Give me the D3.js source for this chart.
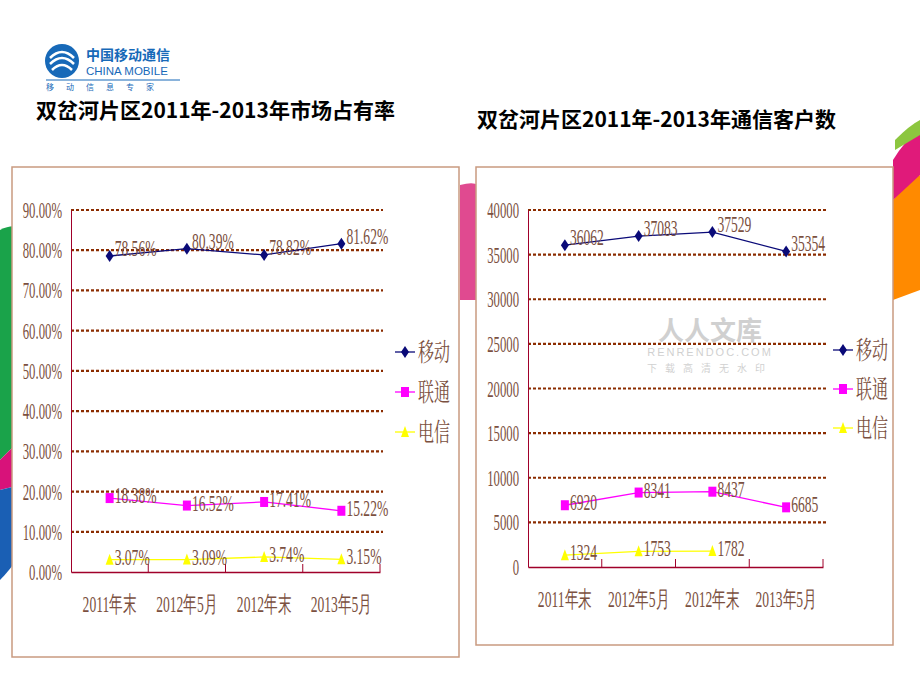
<!DOCTYPE html>
<html><head><meta charset="utf-8">
<script src="https://cdn.jsdelivr.net/npm/d3@7"></script>
<style>body{margin:0;background:#fff}svg{display:block}</style>
</head><body>
<svg id="c" width="920" height="690"></svg>
<script>
const categories = ["2011年末","2012年5月","2012年末","2013年5月"];
const seriesNames = ["移动","联通","电信"];
const shareMobile = [78.56, 80.39, 78.82, 81.62];
const shareUnicom = [18.38, 16.52, 17.41, 15.22];
const shareTelecom = [3.07, 3.09, 3.74, 3.15];
const custMobile = [36062, 37083, 37529, 35354];
const custUnicom = [6920, 8341, 8437, 6685];
const custTelecom = [1324, 1753, 1782, null];
const shareTicks = [0,10,20,30,40,50,60,70,80,90];
const custTicks = [0,5000,10000,15000,20000,25000,30000,35000,40000];
const colors = ["#0a0a78","#ff00ff","#ffff00"];
const labelColor = "#7b5040";
const svg = d3.select("#c");

const deco = svg.append("g");
deco.append("path").attr("d","M0,230 Q40,210 40,300 L40,420 L0,460Z").attr("fill","#1aa34a");
deco.append("path").attr("d","M0,460 L40,420 L40,480 L0,490Z").attr("fill","#d8127a");
deco.append("path").attr("d","M0,490 L40,480 L40,520 Q20,560 0,580Z").attr("fill","#1a5fb4");
deco.append("path").attr("d","M460,185 Q480,180 480,190 L480,300 L460,300Z").attr("fill","#e04a90");
deco.append("path").attr("d","M893,200 Q910,180 920,175 L920,290 L893,300Z").attr("fill","#ff8a00");
deco.append("path").attr("d","M893,160 Q905,140 920,130 L920,175 L893,200Z").attr("fill","#e01a7a");
deco.append("path").attr("d","M895,140 Q910,125 920,120 L920,135 L895,150Z").attr("fill","#8cc63f");

const lg = svg.append("g");
lg.append("circle").attr("cx",62).attr("cy",61).attr("r",17).attr("fill","#1769b8");
lg.append("path").attr("d","M50,58 Q62,46 74,58 M50,64 Q62,52 74,64 M52,70 Q62,60 72,70").attr("stroke","#fff").attr("stroke-width",2.5).attr("fill","none");
lg.append("text").attr("x",86).attr("y",60).attr("font-size",14).attr("font-weight","bold").attr("fill","#1769b8").attr("font-family","Noto Sans CJK SC").text("中国移动通信");
lg.append("text").attr("x",86).attr("y",75).attr("font-size",11.5).attr("fill","#1769b8").attr("font-family","Liberation Sans").text("CHINA MOBILE");
lg.append("line").attr("x1",46).attr("x2",180).attr("y1",80).attr("y2",80).attr("stroke","#1769b8");
lg.append("text").attr("x",46).attr("y",90).attr("font-size",8).attr("fill","#1769b8").attr("letter-spacing",12).attr("font-family","Noto Sans CJK SC").text("移动信息专家");

svg.append("text").attr("x",36).attr("y",118).attr("font-size",21).attr("font-weight","bold").attr("font-family","Noto Sans CJK SC").text("双岔河片区2011年-2013年市场占有率");
svg.append("text").attr("x",477).attr("y",127).attr("font-size",21).attr("font-weight","bold").attr("font-family","Noto Sans CJK SC").text("双岔河片区2011年-2013年通信客户数");

function marker(g,si,px,py){
  if(si===0) g.append("path").attr("d",`M${px},${py-6}L${px+4},${py}L${px},${py+6}L${px-4},${py}Z`).attr("fill",colors[0]);
  else if(si===1) g.append("rect").attr("x",px-4).attr("y",py-5).attr("width",8).attr("height",10).attr("fill",colors[1]);
  else g.append("path").attr("d",`M${px},${py-6}L${px+4},${py+5}L${px-4},${py+5}Z`).attr("fill",colors[2]);
}
function panel(o){
  const g = svg.append("g");
  g.append("rect").attr("x",o.box[0]).attr("y",o.box[1]).attr("width",o.box[2]).attr("height",o.box[3]).attr("fill","#fff").attr("stroke","#c99a80").attr("stroke-width",1.5);
  const x = d3.scaleBand().domain(categories).range([o.x0,o.x1]);
  const y = d3.scaleLinear().domain([0,o.max]).range([o.y0,o.y1]);
  const tfont = "Liberation Serif";
  o.ticks.forEach(t=>{ if(t===0) return;
    g.append("line").attr("x1",o.x0).attr("x2",o.x1+3).attr("y1",y(t)).attr("y2",y(t)).attr("stroke","#8b2c00").attr("stroke-width",2.2).attr("stroke-dasharray","3,2");
  });
  const ya = g.append("g").attr("transform",`translate(${o.x0},0)`).call(d3.axisLeft(y).tickValues(o.ticks).tickSize(0));
  ya.select(".domain").attr("stroke","#a0002a");
  ya.selectAll("text").remove();
  o.ticks.forEach(t=>{
    g.append("text").attr("transform",`translate(${o.x0-9},${y(t)+8}) scale(0.75,1.35)`).attr("text-anchor","end").attr("font-family",tfont).attr("font-size",17).attr("fill",labelColor).text(o.fmt(t));
  });
  const xa = g.append("g").attr("transform",`translate(0,${o.y0})`).call(d3.axisBottom(x).tickSize(0).tickFormat(""));
  xa.select(".domain").attr("stroke","#a0002a").attr("stroke-width",1.5);
  categories.forEach((c,i)=>{
    const bx = x(c)+x.bandwidth();
    g.append("line").attr("x1",bx).attr("x2",bx).attr("y1",o.y0).attr("y2",o.y0-8).attr("stroke","#a0002a");
    g.append("text").attr("transform",`translate(${x(c)+x.bandwidth()/2},${o.y0+40}) scale(0.8,1.35)`).attr("text-anchor","middle").attr("font-family",tfont).attr("font-size",17).attr("fill",labelColor).text(c);
  });
  o.series.forEach((vals,si)=>{
    const pts = vals.map((v,i)=>({v,c:categories[i]})).filter(d=>d.v!=null);
    const line = d3.line().x(d=>x(d.c)+x.bandwidth()/2).y(d=>y(d.v));
    g.append("path").attr("d",line(pts)).attr("fill","none").attr("stroke",colors[si]).attr("stroke-width",1.3);
    pts.forEach(d=>{
      const px = x(d.c)+x.bandwidth()/2, py=y(d.v);
      marker(g,si,px,py);
      g.append("text").attr("transform",`translate(${px+5},${py+(si===0?0:5)}) scale(0.8,1.35)`).attr("font-family",tfont).attr("font-size",17).attr("fill",labelColor).text(o.lab(d.v));
    });
  });
  seriesNames.forEach((n,i)=>{
    const ly = o.leg[1]+i*o.legGap;
    g.append("line").attr("x1",o.leg[0]).attr("x2",o.leg[0]+20).attr("y1",ly).attr("y2",ly).attr("stroke",colors[i]).attr("stroke-width",1.3);
    marker(g,i,o.leg[0]+10,ly);
    g.append("text").attr("transform",`translate(${o.leg[0]+23},${ly+9}) scale(0.8,1.25)`).attr("font-family","Noto Serif CJK SC, Noto Sans CJK SC").attr("font-size",20).attr("fill",labelColor).text(n);
  });
}
panel({box:[12,167,447,490],x0:71,x1:380,y0:572,y1:210,max:90,ticks:shareTicks,fmt:t=>t.toFixed(2)+"%",lab:v=>v.toFixed(2)+"%",
  series:[shareMobile,shareUnicom,shareTelecom],leg:[395,352],legGap:40});
panel({box:[476,167,417,478],x0:528,x1:823,y0:567,y1:210,max:40000,ticks:custTicks,fmt:t=>String(t),lab:v=>String(v),
  series:[custMobile,custUnicom,custTelecom],leg:[833,350],legGap:39});

const wm = svg.append("g").attr("opacity",0.45);
wm.append("text").attr("x",710).attr("y",340).attr("text-anchor","middle").attr("font-size",26).attr("font-weight","bold").attr("fill","#999").attr("font-family","Noto Sans CJK SC").text("人人文库");
wm.append("text").attr("x",710).attr("y",356).attr("text-anchor","middle").attr("font-size",11).attr("letter-spacing",2).attr("fill","#999").attr("font-family","Liberation Sans").text("RENRENDOC.COM");
wm.append("text").attr("x",710).attr("y",372).attr("text-anchor","middle").attr("font-size",10).attr("letter-spacing",8).attr("fill","#999").attr("font-family","Noto Sans CJK SC").text("下载高清无水印");
</script>
</body></html>
